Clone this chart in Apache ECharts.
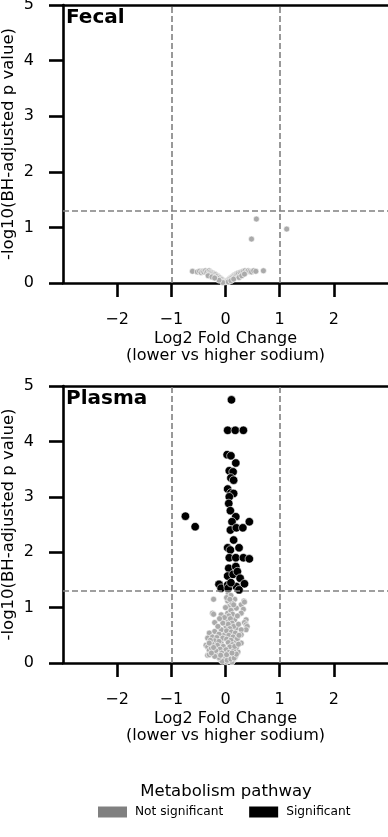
<!DOCTYPE html>
<html>
<head>
<meta charset="utf-8">
<style>
html,body{margin:0;padding:0;background:#fff;}
#chart{width:388px;height:837px;}
</style>
<script src="https://cdn.jsdelivr.net/npm/echarts@6/dist/echarts.min.js"></script>
</head>
<body>
<div id="chart"></div>
<script>
// ---- Data ----
const panelTitles = ['Fecal', 'Plasma'];
const xTicks = [-2, -1, 0, 1, 2];
const yTicks = [0, 1, 2, 3, 4, 5];
const pThreshold = 1.301;   // -log10(0.05)
const fcThresholds = [-1, 1];
const legendNames = ['Not significant', 'Significant'];

// Fecal: all not significant  [log2FC, -log10(p)]
const fecalNotSig = [
  [-0.61,0.21],[-0.52,0.20],[-0.48,0.21],[-0.45,0.19],[-0.42,0.21],[-0.40,0.20],[-0.37,0.22],
  [-0.35,0.19],[-0.33,0.21],[-0.30,0.22],[-0.28,0.20],[-0.26,0.19],[-0.24,0.18],[-0.22,0.17],
  [-0.20,0.16],[-0.18,0.15],[-0.16,0.13],[-0.14,0.12],[-0.12,0.10],[-0.10,0.09],[-0.08,0.07],
  [-0.06,0.06],[-0.04,0.04],[-0.02,0.03],[0.00,0.02],[0.02,0.03],[0.04,0.05],[0.06,0.06],
  [0.08,0.08],[0.10,0.09],[0.12,0.11],[0.14,0.12],[0.16,0.14],[0.18,0.15],[0.20,0.16],
  [0.22,0.17],[0.24,0.18],[0.27,0.19],[0.30,0.20],[0.33,0.21],[0.36,0.22],[0.39,0.20],
  [0.42,0.22],[0.45,0.21],[0.48,0.20],[0.52,0.22],[0.56,0.21],[0.70,0.22],
  [-0.32,0.13],[-0.25,0.11],[-0.05,0.01],[0.05,0.02],[0.10,0.04],[-0.12,0.05],[0.15,0.07],
  [0.25,0.10],[0.30,0.13],[-0.20,0.09],[0.35,0.16],
  [0.48,0.79],[0.57,1.15],[1.13,0.97]
];

// Plasma: not significant
const plasmaNotSig = [
  [-0.22,1.15],[0.04,1.12],[0.17,1.15],[0.34,1.12],[0.07,1.02],[0.29,1.05],[0.20,0.99],[0.35,1.10],
  [0.33,0.97],[-0.24,0.90],[-0.08,0.87],[0.04,0.90],[0.29,0.90],[-0.22,0.88],[0.04,0.78],[0.17,0.78],
  [0.38,0.78],[-0.20,0.73],[0.35,0.73],[0.38,0.69],[0.40,0.66],[0.01,0.66],[0.20,0.63],[0.38,0.60],
  [0.29,0.60],[-0.20,0.57],[-0.02,0.51],[0.29,0.51],[-0.30,0.54],[-0.33,0.45],[-0.24,0.47],[-0.24,0.38],
  [-0.08,0.36],[0.17,0.38],[0.29,0.36],[-0.36,0.32],[-0.33,0.29],[-0.30,0.23],[-0.20,0.20],[-0.33,0.14],
  [-0.30,0.15],[-0.02,0.17],[0.23,0.20],[0.04,0.09],[-0.11,0.08],[0.14,0.05],[0.01,0.02],
  [0.05,1.25],[0.10,1.22],[0.02,1.18],[0.12,1.08],[0.08,1.15],[0.15,1.05],[0.00,1.00],[0.10,0.95],
  [0.13,0.88],[0.06,0.85],[-0.02,0.82],[0.09,0.80],[0.12,0.72],[0.05,0.70],[-0.05,0.72],[0.15,0.66],
  [0.08,0.62],[-0.08,0.60],[0.02,0.58],[0.11,0.56],[0.18,0.54],[-0.12,0.52],[0.06,0.50],[0.14,0.47],
  [-0.16,0.46],[-0.05,0.45],[0.02,0.43],[0.10,0.41],[0.22,0.44],[-0.20,0.40],[-0.12,0.39],[0.05,0.37],
  [0.13,0.33],[-0.15,0.32],[-0.04,0.30],[0.08,0.29],[0.20,0.28],[-0.26,0.27],[-0.10,0.25],[0.01,0.24],
  [0.15,0.22],[-0.18,0.22],[0.06,0.19],[-0.07,0.18],[0.10,0.14],[-0.14,0.13],[-0.03,0.12],[0.05,0.10],
  [0.18,0.11],[-0.08,0.05],[0.08,0.04],[-0.02,0.06],[0.12,0.02],[-0.25,0.34],[-0.28,0.41],[0.25,0.50],
  [0.24,0.70],[0.22,0.85],[-0.14,0.66],[-0.11,0.80],
  [-0.06,0.03],[0.03,0.05],[0.10,0.07],[-0.12,0.10],[0.16,0.09],[-0.20,0.12],[-0.26,0.18],[0.20,0.16],
  [-0.09,0.14],[0.02,0.15],[0.12,0.18],[-0.22,0.28],[0.17,0.30],[-0.30,0.36],[0.24,0.34]
];

// Plasma: significant
const plasmaSig = [
  [0.11,4.75],[0.04,4.20],[0.18,4.20],[0.33,4.20],
  [0.03,3.76],[0.10,3.74],[0.19,3.61],[0.07,3.47],[0.14,3.45],[0.10,3.34],[0.15,3.30],[0.04,3.14],
  [0.10,3.07],[0.15,3.06],[0.07,3.00],[0.06,2.88],[0.09,2.75],[-0.74,2.65],[0.19,2.64],[-0.56,2.46],
  [0.12,2.55],[0.44,2.55],[0.09,2.40],[0.20,2.44],[0.32,2.44],[0.15,2.22],[0.04,2.08],[0.09,2.04],
  [0.25,2.08],[0.07,1.90],[0.19,1.90],[0.33,1.90],[0.44,1.88],[0.06,1.71],[0.19,1.74],[0.04,1.57],
  [0.14,1.60],[0.22,1.65],[0.27,1.53],[-0.12,1.42],[-0.08,1.35],[0.04,1.41],[0.20,1.38],[0.35,1.43],
  [0.25,1.32],[0.05,1.35],[0.10,1.45]
];

// ---- Styles ----
const FONT = 'DejaVu Sans';
const GREY = '#aaaaaa';
const LEG_GREY = '#808080';
const panelTops = [5, 386];
const panelHeights = [278, 277];

function fmtTick(v){ return v < 0 ? '\u2212' + Math.abs(v) : String(v); }

const grids = panelTops.map((t, i) => ({ left: 63, top: t, width: 325, height: panelHeights[i], containLabel: false, outerBoundsMode: 'none' }));

const xAxes = [], yAxes = [];
panelTops.forEach((t, i) => {
  xAxes.push({
    type: 'value', gridIndex: i, min: -3, max: 3, position: 'bottom',
    name: 'Log2 Fold Change\n(lower vs higher sodium)', nameLocation: 'middle', nameGap: 47,
    nameTextStyle: { fontFamily: FONT, fontSize: 16, color: '#000', lineHeight: 17 },
    axisLine: { show: true, onZero: false, lineStyle: { color: '#000', width: 2.6 } },
    axisTick: { show: true, length: 14, customValues: xTicks, lineStyle: { color: '#000', width: 2.6 } },
    axisLabel: { customValues: xTicks, formatter: fmtTick, margin: 29, fontFamily: FONT, fontSize: 16, color: '#000' },
    splitLine: { show: false }
  });
  // top spine
  xAxes.push({
    type: 'value', gridIndex: i, min: -3, max: 3, position: 'top',
    axisLine: { show: true, onZero: false, lineStyle: { color: '#000', width: 2.6 } },
    axisTick: { show: false }, axisLabel: { show: false }, splitLine: { show: false }
  });
  yAxes.push({
    type: 'value', gridIndex: i, min: 0, max: 5, interval: 1, position: 'left',
    name: '-log10(BH-adjusted p value)', nameLocation: 'middle', nameGap: 46, nameMoveOverlap: false,
    nameTextStyle: { fontFamily: FONT, fontSize: 16.5, color: '#000' },
    axisLine: { show: true, onZero: false, lineStyle: { color: '#000', width: 2.6 } },
    axisTick: { show: true, length: 14, lineStyle: { color: '#000', width: 2.6 } },
    axisLabel: { margin: 29, fontFamily: FONT, fontSize: 16, color: '#000', formatter: fmtTick },
    splitLine: { show: false }
  });
});

function thresholdLines(){
  return {
    silent: true, symbol: 'none', animation: false,
    label: { show: false },
    lineStyle: { color: '#808080', type: [6, 3], width: 1.6 },
    data: [ { xAxis: fcThresholds[0] }, { xAxis: fcThresholds[1] }, { yAxis: pThreshold } ]
  };
}

const notSigStyle = { color: GREY, borderColor: '#ffffff', borderWidth: 0.6, opacity: 1 };
const sigStyle = { color: '#000000', borderColor: '#ffffff', borderWidth: 0.6, opacity: 1 };

const series = [
  { name: legendNames[0], type: 'scatter', xAxisIndex: 0, yAxisIndex: 0, data: fecalNotSig,
    symbolSize: 6, itemStyle: notSigStyle, markLine: thresholdLines(), z: 2 },
  { name: legendNames[0], type: 'scatter', xAxisIndex: 2, yAxisIndex: 1, data: plasmaNotSig,
    symbolSize: 6, itemStyle: notSigStyle, markLine: thresholdLines(), z: 2 },
  { name: legendNames[1], type: 'scatter', xAxisIndex: 2, yAxisIndex: 1, data: plasmaSig,
    symbolSize: 8.5, itemStyle: sigStyle, z: 3 }
];

const option = {
  animation: false,
  backgroundColor: '#ffffff',
  textStyle: { fontFamily: FONT },
  grid: grids,
  xAxis: xAxes,
  yAxis: yAxes,
  legend: {
    left: 98, top: 806, orient: 'horizontal', padding: 0,
    itemWidth: 29, itemHeight: 11, itemGap: 26, icon: 'rect',
    textStyle: { fontFamily: FONT, fontSize: 12.2, color: '#000', padding: [0, 0, 0, 3] },
    selectedMode: false,
    data: [
      { name: legendNames[0], itemStyle: { color: LEG_GREY, borderWidth: 0 } },
      { name: legendNames[1], itemStyle: { color: '#000000', borderWidth: 0 } }
    ]
  },
  graphic: [
    { type: 'text', x: 66, y: 18, z: 10, style: { text: panelTitles[0], font: 'bold 20px "DejaVu Sans"', fill: '#000', textVerticalAlign: 'middle' } },
    { type: 'text', x: 66, y: 399, z: 10, style: { text: panelTitles[1], font: 'bold 20px "DejaVu Sans"', fill: '#000', textVerticalAlign: 'middle' } },
    { type: 'text', x: 226, y: 792, style: { text: 'Metabolism pathway', font: '16.5px "DejaVu Sans"', fill: '#000', textAlign: 'center', textVerticalAlign: 'middle' } }
  ],
  series: series
};

const chart = echarts.init(document.getElementById('chart'), null, { renderer: 'canvas' });
chart.setOption(option);
</script>
</body>
</html>
